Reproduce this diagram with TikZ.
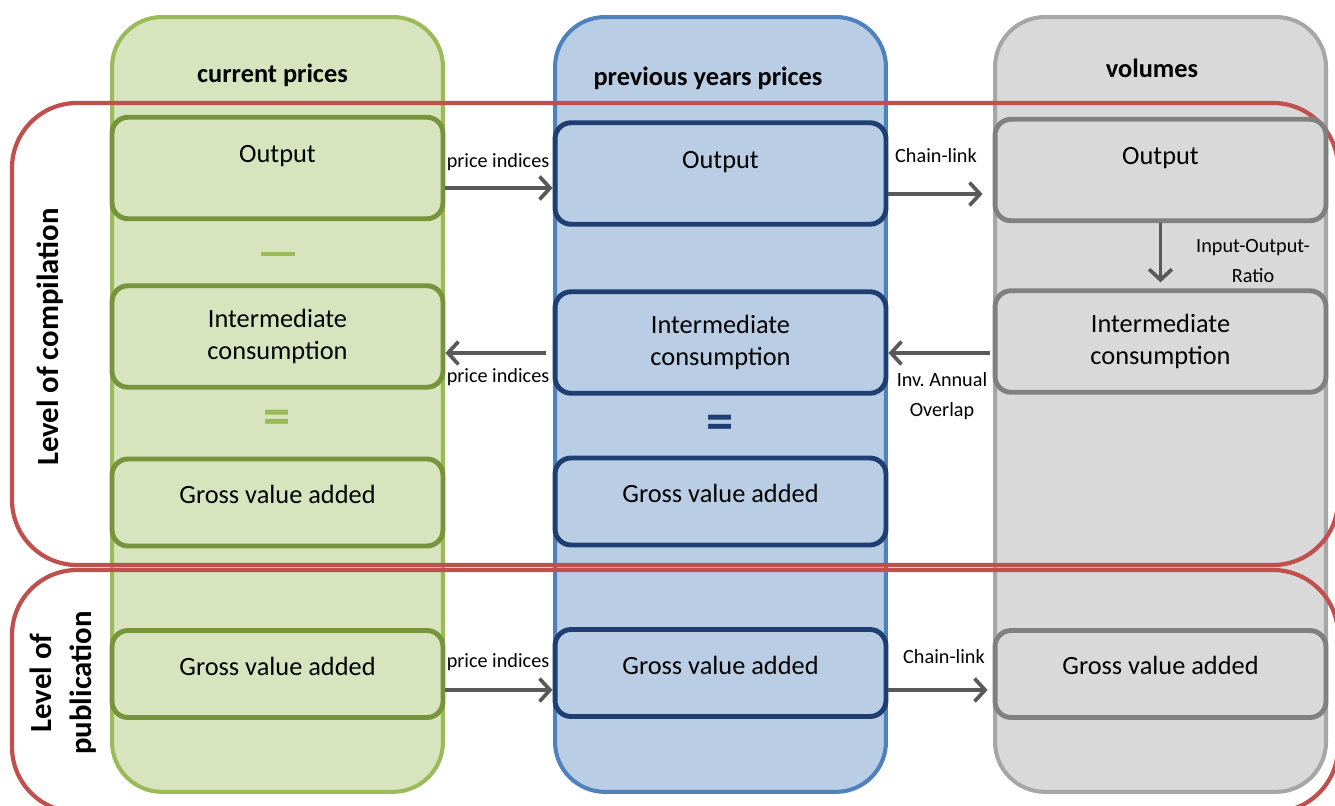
\documentclass[tikz,border=0pt]{standalone}
\usepackage{fontspec}
\setmainfont{Carlito}
\usetikzlibrary{positioning, arrows.meta}

\definecolor{curfill}{HTML}{D7E4BD}
\definecolor{curline}{HTML}{9BBB59}
\definecolor{curdark}{HTML}{77933C}
\definecolor{prvfill}{HTML}{B9CDE5}
\definecolor{prvline}{HTML}{4F81BD}
\definecolor{prvdark}{HTML}{1F3F73}
\definecolor{volfill}{HTML}{D9D9D9}
\definecolor{volline}{HTML}{A6A6A6}
\definecolor{voldark}{HTML}{808080}
\definecolor{lvlred}{HTML}{C0504D}
\definecolor{linkgrey}{HTML}{595959}

\begin{document}
\begin{tikzpicture}[
  x=0.02cm, y=-0.02cm,
  font=\fontsize{15}{18}\selectfont,
  col/.style={
    rectangle, rounded corners=1cm, line width=2.3pt,
    minimum width=6.62cm, minimum height=15.5cm, anchor=north,
  },
  box/.style={
    rectangle, rounded corners=0.32cm, line width=2.8pt,
    minimum width=6.62cm, minimum height=2.03cm,
  },
  gva/.style={box, minimum height=1.74cm},
  cur/.style={draw=curdark, fill=curfill},
  prv/.style={draw=prvdark, fill=prvfill},
  vol/.style={draw=voldark, fill=volfill},
  txt/.style={align=center, font=\fontsize{15}{18.2}\selectfont},
  hdr/.style={font=\fontsize{15}{18}\selectfont\bfseries},
  lbl/.style={align=center, font=\fontsize{11.5}{17}\selectfont},
  sign/.style={font=\fontsize{31}{31}\selectfont\bfseries, inner sep=0pt},
  side/.style={rotate=90, align=center, font=\fontsize{17.5}{23}\selectfont\bfseries},
  link/.style={
    draw=linkgrey, line width=2.1pt,
    -{Straight Barb[length=6pt, width=13pt, line width=2.1pt]},
  },
  lvl/.style={draw=lvlred, line width=2.4pt, rounded corners=1.3cm},
]

\path[use as bounding box] (0,0) rectangle (1335,805);
\clip (0,0) rectangle (1335,805);

% price bases
\node[col, draw=curline, fill=curfill] (colcur) at (277.5,15) {};
\node[col, draw=prvline, fill=prvfill] (colprv) at (720.5,15) {};
\node[col, draw=volline, fill=volfill] (colvol) at (1160.5,15) {};

\node[hdr] (hdrcur) at (272.5,75) {current prices};
\node[hdr] (hdrprv) at (708,78) {previous years prices};
\node[hdr] (hdrvol) at (1152,68) {volumes};

% levels
\draw[lvl] (12,103) rectangle (1338,565);
\draw[lvl] (12,570) rectangle (1338,812);
\node[side] (sidecomp) at (50,337) {Level of compilation};
\node[side] (sidepub) at (63,683) {Level of\\publication};

% current prices
\node[box, cur, label={[txt, yshift=0.24cm]center:Output}] (curout) at (277.5,168) {};
\node[box, cur, label={[txt]center:Intermediate\\consumption}] (curic) at (277.5,336.5) {};
\node[gva, cur, label={[txt, yshift=0.16cm]center:Gross value added}] (curgva) at (277.5,502.5) {};
\node[gva, cur, label={[txt, yshift=0.16cm]center:Gross value added}] (curpub) at (277.5,674) {};
\node[inner sep=0pt, text=curline] (curminus) at (278,254) {\rule{0.68cm}{0.085cm}};
\node[sign, text=curline] (cureq) at (277,422) {=};

% previous years prices
\node[box, prv, label={[txt, yshift=0.23cm]center:Output}] (prvout) at (720.5,173.5) {};
\node[box, prv, label={[txt]center:Intermediate\\consumption}] (prvic) at (720.5,342.5) {};
\node[gva, prv, label={[txt, yshift=0.17cm]center:Gross value added}] (prvgva) at (720.5,501.5) {};
\node[gva, prv, label={[txt, yshift=0.16cm]center:Gross value added}] (prvpub) at (720.5,673) {};
\node[sign, text=prvdark] (prveq) at (720,427) {=};

% volumes
\node[box, vol, label={[txt, yshift=0.24cm]center:Output}] (volout) at (1160.5,170) {};
\node[box, vol, label={[txt]center:Intermediate\\consumption}] (volic) at (1160.5,341.5) {};
\node[gva, vol, label={[txt, yshift=0.18cm]center:Gross value added}] (volpub) at (1160.5,674) {};

% links
\draw[link] ([yshift=-0.4cm]curout.east) -- ([yshift=-0.4cm]curout.east -| prvout.west);
\draw[link] ([yshift=-0.41cm]prvout.east) -- ([yshift=-0.41cm,xshift=-0.2cm]prvout.east -| volout.west);
\draw[link] ([yshift=-0.21cm,xshift=-0.14cm]prvic.west) -- ([yshift=-0.21cm]prvic.west -| curic.east);
\draw[link] ([yshift=-0.23cm,xshift=-0.06cm]volic.west) -- ([yshift=-0.23cm]volic.west -| prvic.east);
\draw[link] (volout.south) -- ([yshift=0.12cm]volic.north);
\draw[link] ([yshift=-0.32cm]curpub.east) -- ([yshift=-0.32cm]curpub.east -| prvpub.west);
\draw[link] ([yshift=-0.34cm]prvpub.east) -- ([yshift=-0.34cm,xshift=-0.1cm]prvpub.east -| volpub.west);

\node[lbl] (lblpi1) at (498,162) {price indices};
\node[lbl] (lblcl1) at (936,156) {Chain-link};
\node[lbl] (lblpi2) at (498,377) {price indices};
\node[lbl] (lblia) at (942,396) {Inv.\ Annual\\Overlap};
\node[lbl] (lblio) at (1253,261) {Input-Output-\\Ratio};
\node[lbl] (lblpi3) at (498,662) {price indices};
\node[lbl] (lblcl2) at (944,657) {Chain-link};

\end{tikzpicture}
\end{document}
